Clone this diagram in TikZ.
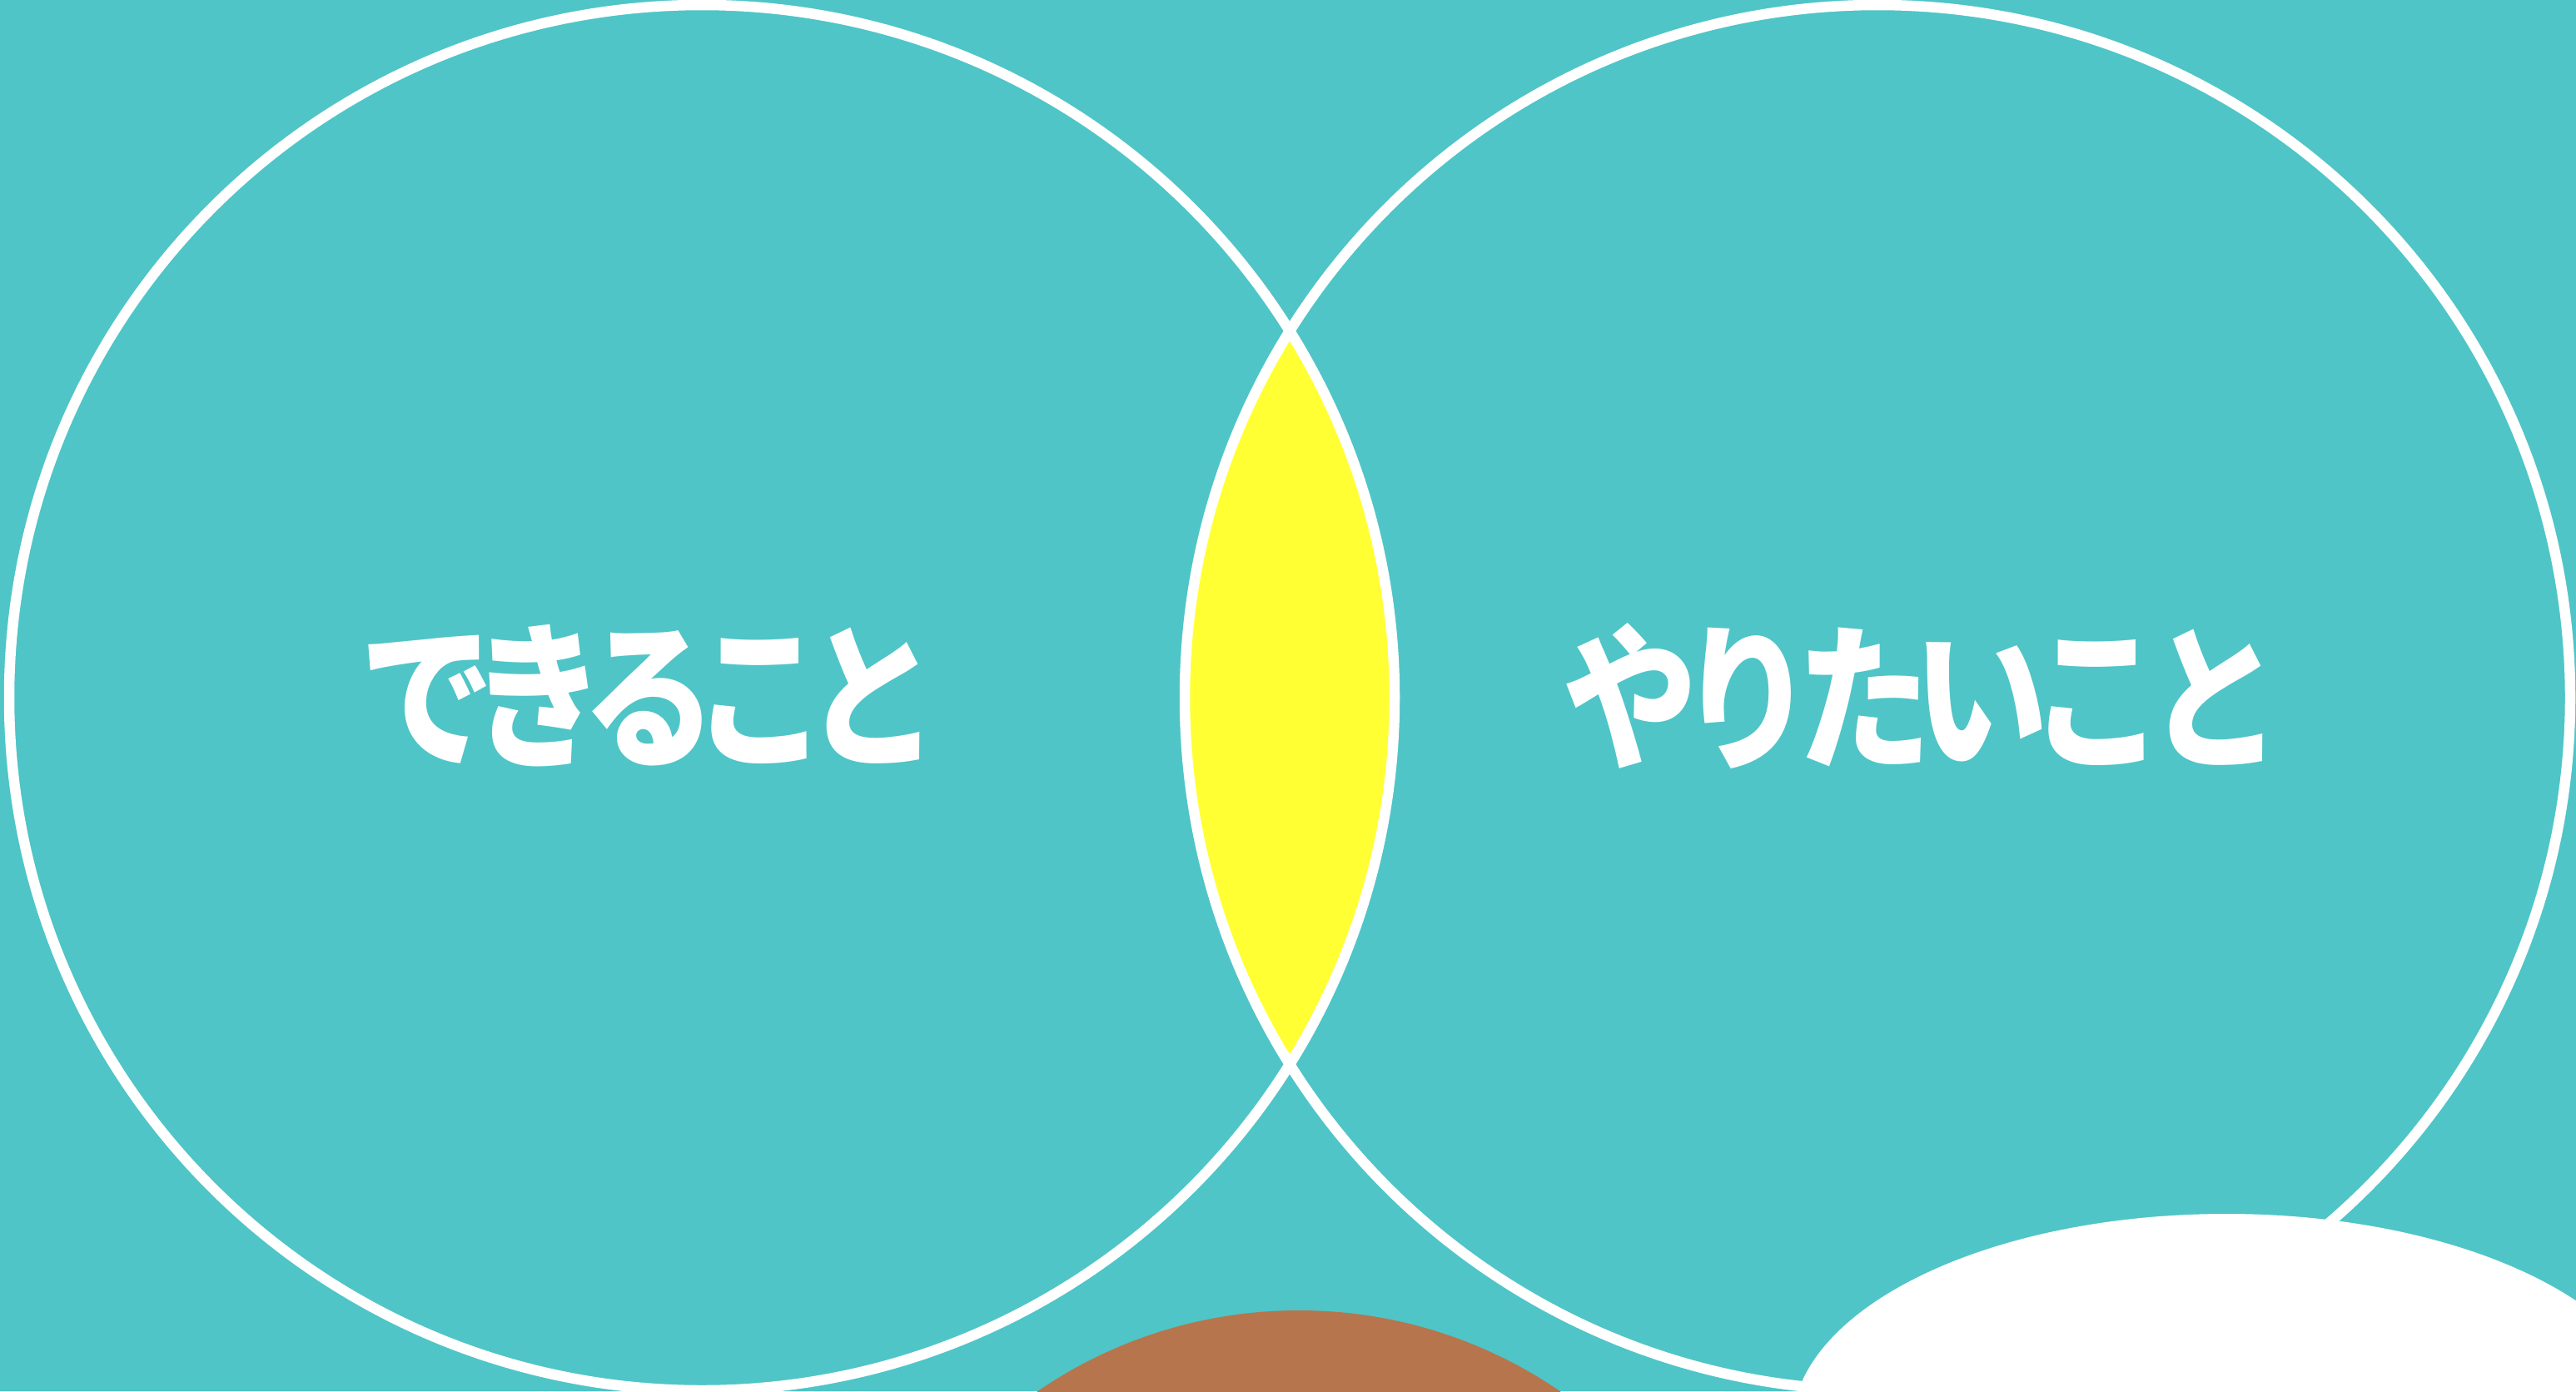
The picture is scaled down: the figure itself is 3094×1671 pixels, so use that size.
\documentclass[tikz,border=0pt]{standalone}
\usepackage{fontspec}
\newfontfamily\jp{Noto Sans CJK JP}
\definecolor{teal}{HTML}{4FC5C7}
\definecolor{lensyellow}{HTML}{FFFF33}
\definecolor{headbrown}{HTML}{B6754D}
\newcommand{\gapL}{\hspace{-33pt}}
\newcommand{\gapR}{\hspace{-25pt}}
\tikzset{
  ring/.style={draw=white, line width=12.5pt},
  label/.style={text=white, inner sep=0pt, xscale=0.85, transform shape,
    font=\jp\bfseries\fontsize{190pt}{190pt}\selectfont}
}
\begin{document}
\begin{tikzpicture}[x=1pt,y=-1pt]
\useasboundingbox (0,0) rectangle (3094,1671);
\fill[teal] (0,0) rectangle (3094,1671);
% lens
\begin{scope}
  \clip (843,838) circle[radius=832pt];
  \fill[lensyellow] (2255,838) circle[radius=832pt];
\end{scope}
% circles
\draw[ring] (843,838) circle[radius=832pt];
\draw[ring] (2255,838) circle[radius=832pt];
% bottom shapes
\fill[headbrown] (1560,2129) circle[radius=555pt];
\fill[white] (2674,1715) ellipse[x radius=522pt, y radius=257pt];
% labels
\node[label] (can) at (780,836) {で\gapL き\gapL る\gapL こ\gapL と};
\node[label] (want) at (2309,836) {や\gapR り\gapR た\gapR い\gapR こ\gapR と};
\end{tikzpicture}
\end{document}
